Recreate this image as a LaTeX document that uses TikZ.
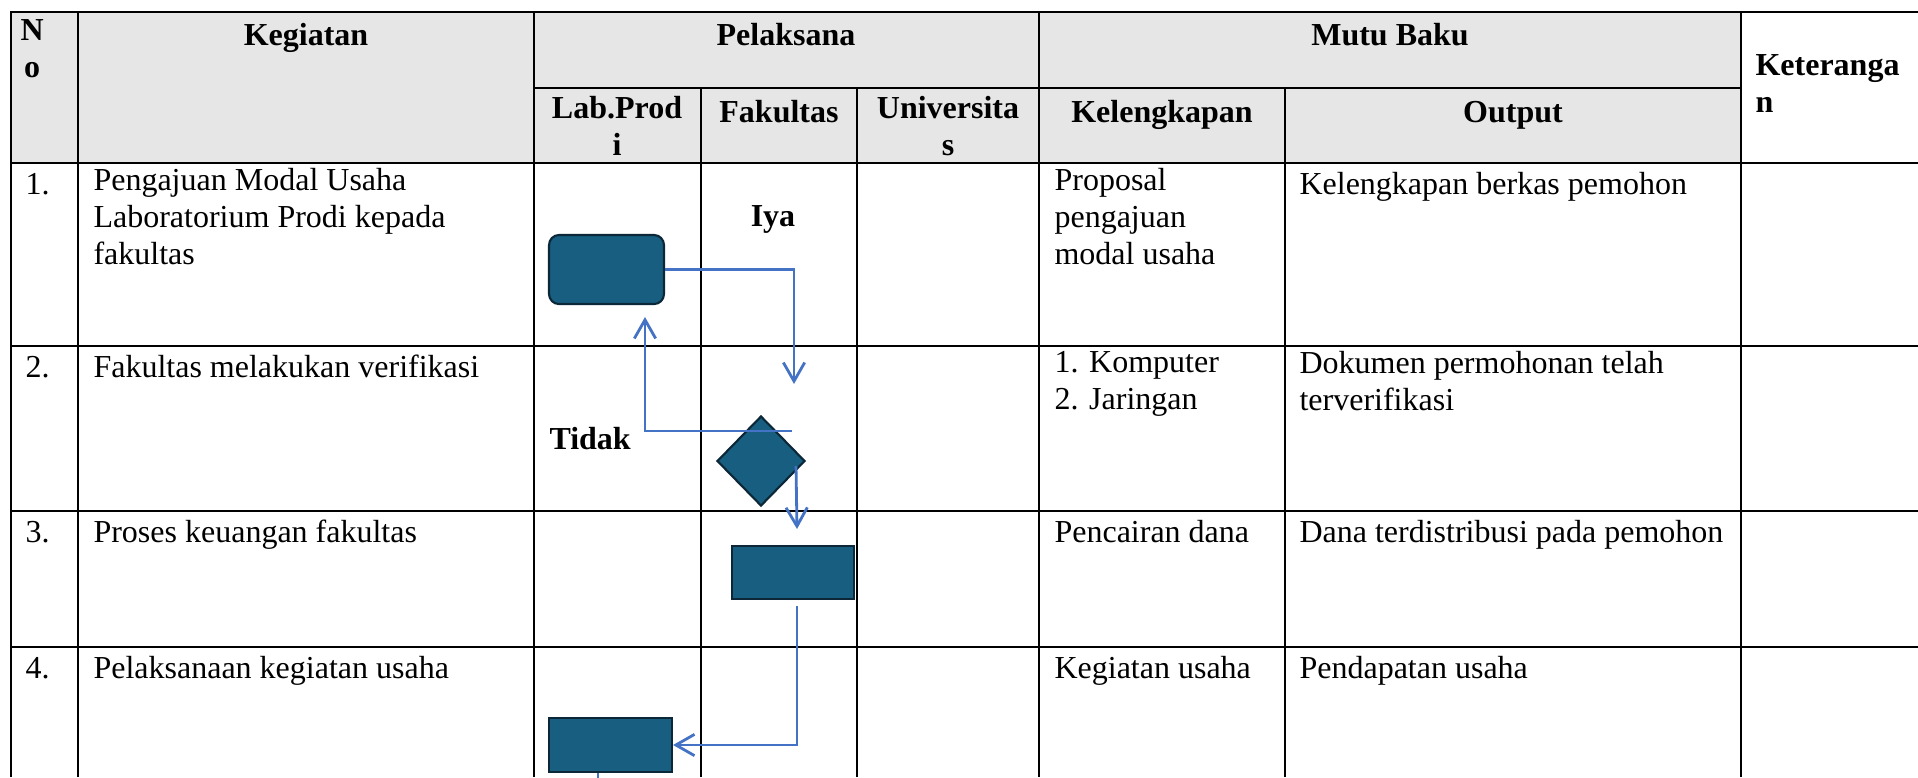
\documentclass[tikz,border=0pt]{standalone}
\usepackage{fontspec}
\setmainfont{Liberation Serif}
\usetikzlibrary{shapes.geometric,arrows.meta}

\definecolor{headgray}{RGB}{231,230,230}
\definecolor{boxfill}{RGB}{23,94,128}
\definecolor{boxline}{RGB}{12,40,56}
\definecolor{flowblue}{RGB}{68,114,196}

\begin{document}
\begin{tikzpicture}[x=0.375pt,y=-0.375pt,
	grid/.style={line width=1.1pt},
	txt/.style={inner sep=0pt,yshift=9.66pt,execute at begin node=\strut},
	cell/.style={txt,anchor=north west,align=left,font=\fontsize{12pt}{13.8pt}\selectfont},
	head/.style={txt,anchor=north,align=center,font=\fontsize{12pt}{13.8pt}\selectfont\bfseries},
	proc/.style={draw=boxline,fill=boxfill,line width=0.8pt,inner sep=0pt},
	flow/.style={draw=flowblue,line width=1.05pt,-{Straight Barb[length=7pt,width=8pt]}}]

\useasboundingbox (0,0) rectangle (1918,777);

% header shading
\fill[headgray] (11,12) rectangle (1741,163);

% table grid
\draw[grid] (11,777) -- (11,12) -- (1918,12);
\draw[grid] (534,88) -- (1741,88);
\draw[grid] (11,163) -- (1918,163)
			(11,346) -- (1918,346)
			(11,511) -- (1918,511)
			(11,647) -- (1918,647);
\draw[grid] (78,12) -- (78,777)
			(534,12) -- (534,777)
			(701,88) -- (701,777)
			(857,88) -- (857,777)
			(1039,12) -- (1039,777)
			(1285,88) -- (1285,777)
			(1741,12) -- (1741,777);

% header labels
\node[head,anchor=north west] (hno) at (20,45) {N\\o};
\node[head] (hkeg) at (306,45) {Kegiatan};
\node[head] (hpel) at (786,45) {Pelaksana};
\node[head] (hmutu) at (1390,45) {Mutu Baku};
\node[head,anchor=north west,align=left] (hket) at (1755,80) {Keteranga\\n};
\node[head] (hlab) at (617,122) {Lab.Prod\\i};
\node[head] (hfak) at (779,122) {Fakultas};
\node[head] (huniv) at (948,122) {Universita\\s};
\node[head] (hkel) at (1162,122) {Kelengkapan};
\node[head] (hout) at (1513,122) {Output};

% rows
\node[cell] (no1) at (25,194) {1.};
\node[cell] (keg1) at (93,194) {Pengajuan Modal Usaha\\Laboratorium Prodi kepada\\fakultas};
\node[cell] (kel1) at (1054,194) {Proposal\\pengajuan\\modal usaha};
\node[cell] (out1) at (1299,194) {Kelengkapan berkas pemohon};

\node[cell] (no2) at (25,377) {2.};
\node[cell] (keg2) at (93,377) {Fakultas melakukan verifikasi};
\node[cell] (kel2) at (1054,377) {1. Komputer\\2. Jaringan};
\node[cell] (out2) at (1299,377) {Dokumen permohonan telah\\terverifikasi};

\node[cell] (no3) at (25,542) {3.};
\node[cell] (keg3) at (93,542) {Proses keuangan fakultas};
\node[cell] (kel3) at (1054,542) {Pencairan dana};
\node[cell] (out3) at (1299,542) {Dana terdistribusi pada pemohon};

\node[cell] (no4) at (25,678) {4.};
\node[cell] (keg4) at (93,678) {Pelaksanaan kegiatan usaha};
\node[cell] (kel4) at (1054,678) {Kegiatan usaha};
\node[cell] (out4) at (1299,678) {Pendapatan usaha};

% flow shapes
\node[proc,rounded corners=3.75pt,minimum width=43.1pt,minimum height=25.9pt] (ajuan) at (606.5,269.5) {};
\node[proc,diamond,minimum width=33pt,minimum height=33.75pt] (verif) at (761,461) {};
\node[proc,minimum width=45.75pt,minimum height=19.9pt] (cair) at (793,572.5) {};
\node[proc,minimum width=46.1pt,minimum height=20.25pt] (usaha) at (610.5,745) {};

% branch labels
\node[head] (iya) at (773,226) {Iya};
\node[head,anchor=north west] (tidak) at (549,449) {Tidak};

% connectors
\coordinate (ya) at (794,384);
\draw[flow] (ajuan.east) -| (ya);
\coordinate (tdk0) at (792,431);
\coordinate (tdk1) at (645,317);
\draw[flow] (tdk0) -| (tdk1);
\coordinate (cek0) at (796,466);
\coordinate (cek1) at (797,529);
\draw[flow] (cek0) -- (cek1);
\coordinate (dana) at (797,606);
\draw[flow] (dana) |- (usaha.east);
\coordinate (lanjut) at (598,790);
\draw[draw=flowblue,line width=1.05pt] (usaha.south -| lanjut) -- (lanjut);
\end{tikzpicture}
\end{document}
